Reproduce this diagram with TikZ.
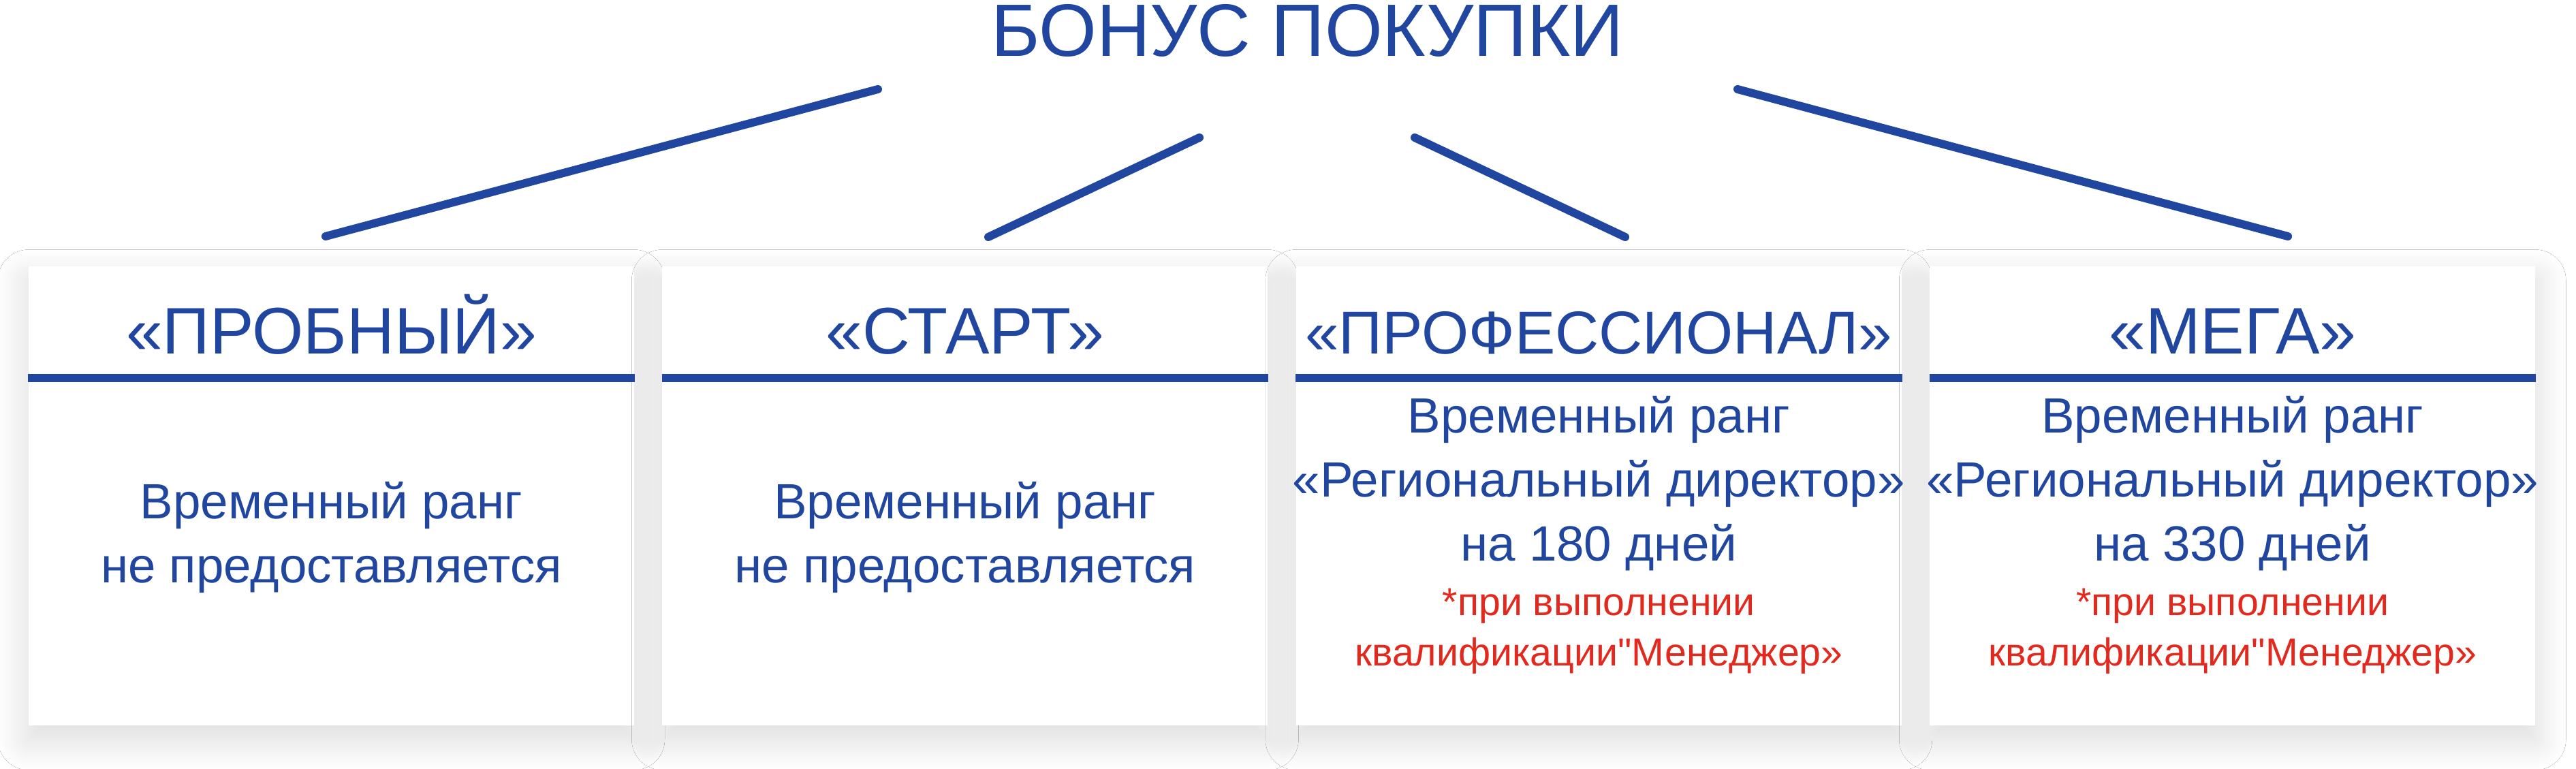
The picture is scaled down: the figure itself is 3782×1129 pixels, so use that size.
\documentclass[tikz,border=0pt]{standalone}
\usepackage{fontspec}
\setmainfont{Liberation Sans}[Ligatures=TeXOff]
\usepackage{tikz}
\usetikzlibrary{calc}
\usetikzlibrary{positioning}
\usetikzlibrary{shadows.blur}

\definecolor{bonusblue}{HTML}{2046A0}
\definecolor{notered}{HTML}{E3281E}

\tikzset{
  card/.style={fill=white, inner sep=0pt, minimum width=88.9mm, minimum height=67.4mm,
    blur shadow={shadow xshift=0mm, shadow yshift=-2mm, shadow blur radius=4.5mm, shadow opacity=15, shadow blur steps=30, shadow blur extra rounding=0mm}},
  headline/.style={text=bonusblue, anchor=base, font=\fontsize{31}{36}\selectfont},
  level/.style={text=bonusblue, anchor=base, font=\fontsize{27.5}{32}\selectfont},
  rank/.style={text=bonusblue, anchor=base, align=center, font=\fontsize{20.7}{26.8}\selectfont},
  note/.style={text=notered, anchor=base, align=center, font=\fontsize{16.3}{21}\selectfont},
  rule/.style={draw=bonusblue, line width=1.2mm},
  branch/.style={draw=bonusblue, line width=1.2mm, line cap=round},
}

\begin{document}
\begin{tikzpicture}[x=0.1mm, y=-0.1mm]

\fill[white] (0,0) rectangle (3782,1129);
\useasboundingbox (0,0) rectangle (3782,1129);

\node[headline] (title) at (1919.5,83) {БОНУС ПОКУПКИ};

% cards
\node[card] (c1) at (486.5,728.5) {};
\node[card, right=4mm of c1] (c2) {};
\node[card, right=4mm of c2] (c3) {};
\node[card, right=4mm of c3] (c4) {};

% card heads
\node[level] (h1) at ($(c1.north)+(0,129)$) {«ПРОБНЫЙ»};
\node[level] (h2) at ($(c2.north)+(0,129)$) {«СТАРТ»};
\node[level, font=\fontsize{25.3}{30}\selectfont] (h3) at ($(c3.north)+(0,129)$) {«ПРОФЕССИОНАЛ»};
\node[level] (h4) at ($(c4.north)+(0,129)$) {«МЕГА»};

\draw[rule] ($(c1.north west)+(0,164)$) -- ($(c1.north east)+(0,164)$);
\draw[rule] ($(c2.north west)+(0,164)$) -- ($(c2.north east)+(0,164)$);
\draw[rule] ($(c3.north west)+(0,164)$) -- ($(c3.north east)+(0,164)$);
\draw[rule] ($(c4.north west)+(0,164)$) -- ($(c4.north east)+(0,164)$);

% card texts (base = last line)
\node[rank] (r1) at ($(c1.north)+(0,465)$) {Временный ранг\\не предоставляется};
\node[rank] (r2) at ($(c2.north)+(0,465)$) {Временный ранг\\не предоставляется};
\node[rank] (r3) at ($(c3.north)+(0,433)$) {Временный ранг\\«Региональный директор»\\на 180 дней};
\node[rank] (r4) at ($(c4.north)+(0,433)$) {Временный ранг\\«Региональный директор»\\на 330 дней};
\node[note] (n3) at ($(c3.north)+(0,587)$) {*при выполнении\\квалификации"Менеджер»};
\node[note] (n4) at ($(c4.north)+(0,587)$) {*при выполнении\\квалификации"Менеджер»};

% branches
\coordinate (t1) at (1289,131);
\coordinate (t2) at (1761,202);
\coordinate (t3) at (2077,202);
\coordinate (t4) at (2551,131);
\coordinate (b1) at (478,347);
\coordinate (b2) at (1451,348);
\coordinate (b3) at (2386,348);
\coordinate (b4) at (3359,347);

\path[branch] (t1) -- (b1);
\path[branch] (t2) -- (b2);
\path[branch] (t3) -- (b3);
\path[branch] (t4) -- (b4);
\end{tikzpicture}
\end{document}
